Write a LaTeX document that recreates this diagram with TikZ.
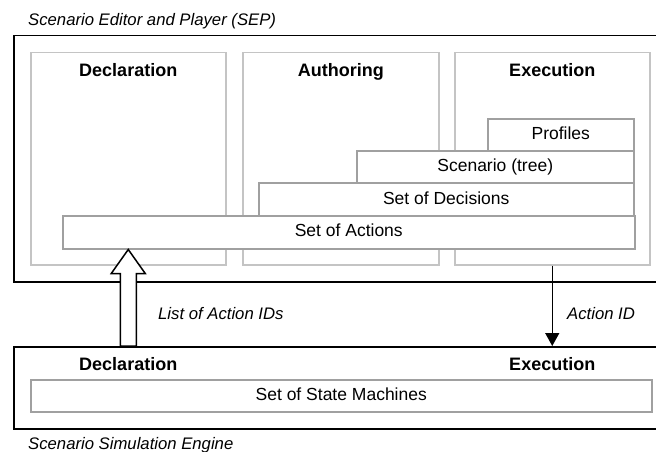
\documentclass[tikz,border=0pt]{standalone}
\usepackage{fontspec}
\setmainfont{Liberation Sans}
\usetikzlibrary{positioning,calc,arrows.meta}
\definecolor{panelgray}{HTML}{C4C4C4}
\definecolor{boxgray}{HTML}{A0A0A0}

\begin{document}
\begin{tikzpicture}[x=1pt,y=-1pt,
    outer/.style={draw=black, line width=1.5pt, anchor=north west, inner sep=0pt},
    panel/.style={draw=panelgray, line width=1.5pt, anchor=north west, minimum width=#1, minimum height=212, inner sep=0pt},
    inbox/.style={draw=boxgray, fill=white, line width=1.5pt, anchor=north west, minimum width=#1, minimum height=33, inner sep=0pt, text height=12.5pt, text depth=3.5pt, font=\fontsize{17.5}{20}\selectfont},
    hdr/.style={inner sep=0pt, font=\fontsize{18}{20}\selectfont\bfseries},
    note/.style={inner sep=0pt, font=\fontsize{16.7}{20}\selectfont\itshape},
    hollow/.style={draw=black, fill=white, line width=1.5pt, line join=miter},
    thin/.style={-{Triangle[width=14pt,length=13pt]}, line width=1.5pt}
]
    \useasboundingbox (0,0) rectangle (656,452);

    % Scenario Editor and Player
    \node[note, anchor=base west] (septitle) at (28,26) {Scenario Editor and Player (SEP)};
    \node[outer, minimum width=650, minimum height=246] (sep) at (13,35) {};

    \node[panel=195] (decl) at (30,52) {};
    \node[panel=196] (auth) at (242,52) {};
    \node[panel=195] (exec) at (454,52) {};
    \node[hdr, below=11pt of decl.north] (declhdr) {Declaration};
    \node[hdr, below=11pt of auth.north] (authhdr) {Authoring};
    \node[hdr, below=11pt of exec.north] (exechdr) {Execution};

    \node[inbox=146] (prof) at (487,118) {Profiles};
    \node[inbox=277] (scen) at (356,150) {Scenario (tree)};
    \node[inbox=375, minimum height=34] (deci) at (258,182) {Set of Decisions};
    \node[inbox=572] (acts) at (62,215) {Set of Actions};

    % Scenario Simulation Engine
    \node[outer, minimum width=650, minimum height=82] (sse) at (13,346) {};
    \node[hdr, anchor=north] (sdeclhdr) at ($(sse.north -| decl.south)+(0,11)$) {Declaration};
    \node[hdr, anchor=north] (sexechdr) at ($(sse.north -| exec.south)+(0,11)$) {Execution};
    \node[inbox=621, minimum height=32] (stm) at (30,379) {Set of State Machines};
    \node[note, anchor=base west] (ssetitle) at (28,449) {Scenario Simulation Engine};

    % connectors
    \coordinate (tip) at (decl.south |- acts.south);
    \coordinate (base) at (decl.south |- sse.north);
    \draw[hollow] (base) ++(-8,0) |- ($(tip)+(-17,24)$) -- (tip) -- ++(17,24) -| ($(base)+(8,0)$) -- cycle;
    \draw[thin] (exec.south) -- (exec.south |- sse.north);

    \node[note, anchor=base west] (listlbl) at (158,319) {List of Action IDs};
    \node[note, anchor=base west] (idlbl) at (567,319) {Action ID};
\end{tikzpicture}
\end{document}
